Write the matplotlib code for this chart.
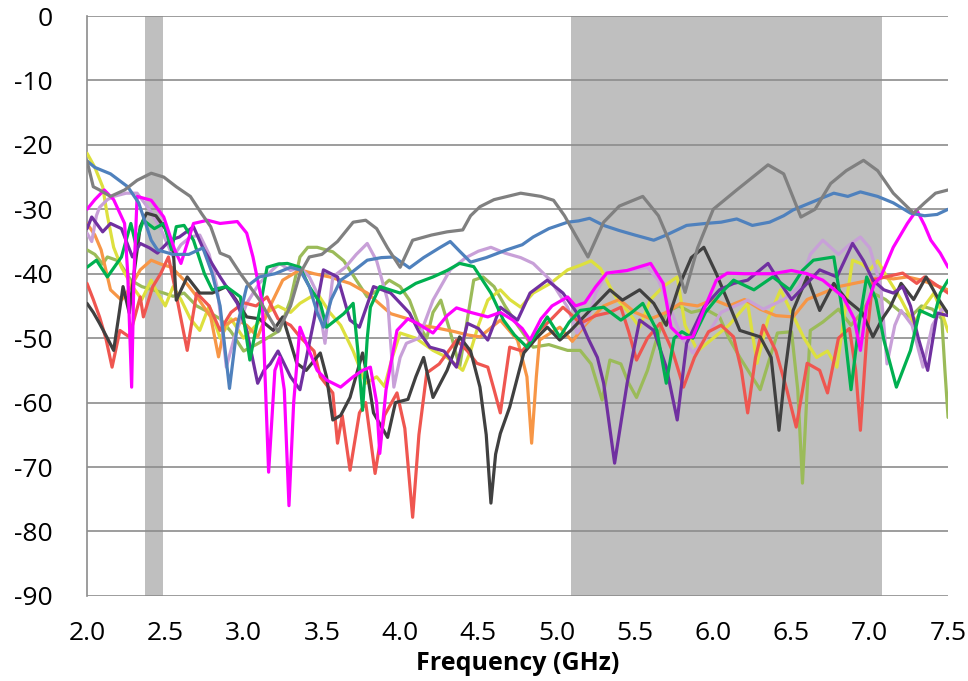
import matplotlib
matplotlib.use('Agg')
import matplotlib.pyplot as plt

plt.rcParams['font.family'] = ['Open Sans', 'DejaVu Sans']
plt.rcParams['axes.unicode_minus'] = False

# bande evidenziate (GHz)
bande = [(2.37, 2.485), (5.09, 7.08)]

# curve: frequenza (GHz) e livello (dB)
gray_x = [2.0, 2.04, 2.08, 2.15, 2.24, 2.32, 2.41, 2.49, 2.57, 2.66, 2.73, 2.79, 2.85, 2.91, 2.98, 3.04, 3.1, 3.17,
          3.22, 3.3, 3.36, 3.42, 3.5, 3.6, 3.7, 3.78, 3.85, 3.92, 4.0, 4.08, 4.2, 4.3, 4.4, 4.45, 4.51, 4.6, 4.77, 4.9,
          4.98, 5.05, 5.12, 5.2, 5.3, 5.4, 5.55, 5.65, 5.72, 5.82, 5.9, 6.0, 6.15, 6.35, 6.45, 6.56, 6.65, 6.75, 6.85,
          6.96, 7.05, 7.15, 7.28, 7.35, 7.42, 7.5]
gray_y = [-22.5, -26.5, -27, -28, -27, -25.5, -24.4, -25, -26.5, -28, -30.6, -32.7, -36.8, -37.4, -40, -42, -44, -47,
          -49, -45, -40, -37.4, -37, -35, -32, -31.7, -33, -36, -39, -34.8, -34, -33.5, -33.2, -31, -29.6, -28.5, -27.5,
          -28, -28.6, -31, -34, -37.4, -32, -29.5, -28, -31, -35, -42.9, -36, -30, -27, -23.1, -24.5, -31.2, -30, -26,
          -24, -22.4, -24, -27.5, -30.6, -29, -27.5, -27]

blue_x = [2.0, 2.05, 2.1, 2.15, 2.26, 2.33, 2.41, 2.45, 2.55, 2.65, 2.74, 2.8, 2.85, 2.91, 2.96, 3.02, 3.1, 3.2, 3.3,
          3.36, 3.42, 3.47, 3.51, 3.56, 3.62, 3.68, 3.79, 3.88, 3.96, 4.06, 4.15, 4.25, 4.32, 4.38, 4.45, 4.55, 4.68,
          4.78, 4.85, 4.95, 5.07, 5.14, 5.21, 5.3, 5.4, 5.5, 5.62, 5.7, 5.83, 5.95, 6.05, 6.15, 6.25, 6.36, 6.45, 6.51,
          6.62, 6.77, 6.86, 6.94, 7.05, 7.15, 7.26, 7.35, 7.43, 7.5]
blue_y = [-22.5, -23.5, -24, -24.5, -26.5, -29, -34.8, -36.3, -37, -37, -36, -40, -45, -57.8, -48, -42, -40.5, -40,
          -39, -39.4, -42, -46, -48.3, -44, -41, -40, -37.9, -37.5, -37.4, -39.1, -37.5, -36, -35, -36.5, -38.2, -37.5,
          -36.3, -35.5, -34.3, -33, -32, -31.8, -31.4, -32.5, -33.3, -34, -34.8, -34, -32.5, -32.2, -32, -31.5, -32.5,
          -32, -31, -30.1, -29, -27.5, -28, -27.3, -28, -29, -30.6, -31, -30.8, -30]

magenta_x = [2.0, 2.05, 2.11, 2.17, 2.24, 2.26, 2.285, 2.3, 2.32, 2.41, 2.49, 2.56, 2.6, 2.68, 2.77, 2.85, 2.96, 3.02,
             3.06, 3.12, 3.16, 3.2, 3.23, 3.26, 3.29, 3.32, 3.36, 3.42, 3.47, 3.53, 3.62, 3.7, 3.76, 3.81, 3.85, 3.87,
             3.91, 3.98, 4.05, 4.11, 4.21, 4.3, 4.36, 4.45, 4.56, 4.64, 4.72, 4.78, 4.83, 4.9, 4.97, 5.07, 5.12, 5.18,
             5.25, 5.32, 5.45, 5.6, 5.68, 5.73, 5.8, 5.87, 5.95, 6.02, 6.09, 6.2, 6.38, 6.5, 6.6, 6.7, 6.83, 6.9, 6.94,
             6.98, 7.03, 7.07, 7.15, 7.24, 7.3, 7.35, 7.39, 7.45, 7.5]
magenta_y = [-30, -28.5, -27, -28.5, -32.2, -40, -57.6, -40, -28, -28.6, -31.2, -36.3, -38.4, -32.2, -31.7, -32.2,
             -31.9, -33.7, -37.4, -44.6, -70.8, -55, -53, -58, -76, -60, -48.3, -52, -55, -56.5, -57.6, -56, -55,
             -54.5, -60, -67.9, -58, -48.8, -47, -47.7, -49.2, -46.5, -45.3, -46, -46.7, -46, -47.2, -48.5, -50.3, -47,
             -45, -43.6, -45, -44.5, -42, -39.9, -39.5, -38.4, -41.5, -48.3, -50, -49.8, -45, -41, -39.9, -40, -40,
             -39.5, -40, -41, -43.6, -47, -51.9, -45, -41.5, -40.5, -35.9, -32.2, -30.1, -32.5, -34.8, -36.8, -39]

yellow_x = [2.0, 2.05, 2.1, 2.13, 2.17, 2.22, 2.29, 2.35, 2.41, 2.45, 2.5, 2.55, 2.6, 2.66, 2.72, 2.78, 2.85, 2.92,
            3.0, 3.08, 3.15, 3.22, 3.3, 3.36, 3.47, 3.55, 3.62, 3.7, 3.78, 3.85, 3.9, 3.95, 4.0, 4.1, 4.21, 4.3, 4.4,
            4.45, 4.5, 4.56, 4.64, 4.7, 4.77, 4.85, 4.96, 5.07, 5.15, 5.22, 5.28, 5.34, 5.39, 5.46, 5.53, 5.6, 5.68,
            5.77, 5.82, 5.9, 6.0, 6.1, 6.22, 6.28, 6.35, 6.43, 6.5, 6.58, 6.66, 6.73, 6.79, 6.84, 6.89, 6.95, 7.0,
            7.05, 7.11, 7.2, 7.28, 7.35, 7.41, 7.46, 7.5]
yellow_y = [-21.3, -23.5, -26.5, -31, -35.9, -39, -42, -44, -41, -43, -45, -42, -44, -47, -48.8, -45, -50, -47, -50,
            -48, -46, -45, -46, -44.6, -43, -46, -48, -52, -57, -56, -57.5, -53, -49.2, -50, -51.9, -53, -55, -52,
            -48, -44.1, -42.5, -44, -45.2, -43, -41.5, -39.4, -38.7, -38, -39.2, -42, -44.1, -46, -48.3, -44, -42,
            -40.5, -48, -52, -50, -48, -44.6, -53.9, -47, -42.5, -46, -50, -53, -52, -54.5, -46, -37.9, -38.5, -39.4,
            -38, -40.5, -44, -47.7, -45, -43, -46, -49]

green_x = [2.0, 2.06, 2.13, 2.22, 2.28, 2.31, 2.36, 2.43, 2.49, 2.54, 2.57, 2.62, 2.68, 2.75, 2.8, 2.89, 2.98, 3.04,
           3.1, 3.15, 3.22, 3.28, 3.36, 3.42, 3.49, 3.53, 3.64, 3.7, 3.73, 3.76, 3.79, 3.81, 3.87, 4.0, 4.1, 4.21,
           4.3, 4.38, 4.47, 4.58, 4.66, 4.73, 4.81, 4.88, 4.94, 5.02, 5.08, 5.15, 5.3, 5.41, 5.48, 5.55, 5.64, 5.7,
           5.75, 5.8, 5.87, 5.95, 6.05, 6.13, 6.26, 6.38, 6.49, 6.57, 6.64, 6.77, 6.82, 6.88, 6.93, 6.98, 7.04, 7.09,
           7.17, 7.26, 7.32, 7.41, 7.45, 7.5]
green_y = [-39, -37.9, -40.5, -37.4, -32.2, -35.3, -31.7, -33, -32.2, -36.3, -32.7, -32.5, -34.8, -40, -42.5, -42,
           -43.6, -53.4, -46, -39, -38.5, -38.4, -39, -42, -44.6, -48.3, -46.2, -44.6, -52, -61.2, -50, -45.2, -42,
           -43, -41.5, -40.5, -39.5, -38.4, -38.9, -43, -47.2, -49.5, -51.4, -49, -46.7, -49.8, -47.5, -45.7, -45.2,
           -47.2, -46, -44.6, -48.8, -57, -50, -49, -50, -46, -43, -41, -42.5, -40.5, -42.5, -39.5, -37.9, -37.4, -45,
           -58, -48, -40.5, -44, -50.3, -57.6, -51.9, -45.7, -46.7, -43, -41]

purple_x = [2.0, 2.03, 2.1, 2.15, 2.22, 2.29, 2.34, 2.4, 2.45, 2.53, 2.59, 2.68, 2.74, 2.8, 2.85, 2.96, 3.02, 3.09,
            3.13, 3.17, 3.22, 3.3, 3.36, 3.41, 3.45, 3.51, 3.6, 3.68, 3.74, 3.83, 3.94, 4.06, 4.12, 4.19, 4.28, 4.36,
            4.43, 4.5, 4.56, 4.64, 4.75, 4.83, 4.94, 5.04, 5.13, 5.2, 5.26, 5.3, 5.37, 5.45, 5.53, 5.62, 5.7, 5.77,
            5.83, 5.94, 6.04, 6.13, 6.22, 6.35, 6.43, 6.5, 6.58, 6.68, 6.79, 6.89, 6.96, 7.02, 7.09, 7.15, 7.21, 7.26,
            7.31, 7.37, 7.43, 7.5]
purple_y = [-33, -31.2, -33.5, -32.2, -33, -37.4, -35.3, -36, -36.8, -34.8, -34.3, -32.7, -36, -38.5, -40.5, -44.6,
            -48.8, -57, -55, -54, -52, -56, -58, -52, -47.2, -39.4, -40.5, -47.2, -48.3, -42, -43, -46.1, -49, -51.4,
            -52, -54.5, -47.7, -48.5, -50.3, -45.2, -47.2, -43, -41, -43, -46.1, -50, -53, -57, -69.4, -57, -47.2,
            -48.8, -54.5, -62.7, -50.8, -45.2, -42.5, -41.5, -41, -38.4, -41.5, -44, -42, -39.4, -40.5, -35.3, -38,
            -41, -42.5, -43, -42, -45, -50, -55, -46.1, -46.5]

black_x = [2.0, 2.04, 2.08, 2.13, 2.17, 2.2, 2.23, 2.27, 2.3, 2.34, 2.38, 2.44, 2.5, 2.55, 2.57, 2.64, 2.72, 2.8, 2.89,
           2.95, 3.02, 3.1, 3.19, 3.25, 3.34, 3.4, 3.49, 3.53, 3.57, 3.62, 3.68, 3.76, 3.8, 3.83, 3.92, 3.97, 4.05,
           4.1, 4.15, 4.21, 4.3, 4.38, 4.45, 4.51, 4.55, 4.58, 4.61, 4.64, 4.7, 4.79, 4.87, 4.94, 5.02, 5.09, 5.2,
           5.28, 5.34, 5.42, 5.53, 5.62, 5.7, 5.78, 5.86, 5.94, 6.02, 6.09, 6.17, 6.3, 6.37, 6.42, 6.46, 6.51, 6.6,
           6.68, 6.77, 6.85, 6.95, 7.02, 7.08, 7.13, 7.2, 7.28, 7.36, 7.44, 7.5]
black_y = [-44.6, -46, -47.7, -50, -51.9, -47, -42, -46.1, -40, -32.7, -30.6, -31, -33, -35.9, -44.1, -40.5, -43, -43,
           -42, -44, -46.7, -47, -48.8, -46.7, -53.9, -55, -52.3, -56, -62.7, -62, -59.2, -52.3, -57, -61.6, -65.4,
           -60, -59.5, -56, -53, -59.2, -55, -49.8, -52, -57.6, -65, -75.6, -68, -64.8, -60.7, -52.3, -50, -48.3,
           -50.3, -48.8, -46, -44, -42.5, -44.1, -42.5, -44.6, -48, -42, -37.5, -35.9, -40, -44.1, -48.8, -49.8, -53,
           -64.3, -55, -45.7, -40.5, -45.7, -41.5, -44, -46, -49.8, -47, -45.2, -41.5, -44, -40.5, -44, -46.2]

red_x = [2.0, 2.04, 2.08, 2.12, 2.16, 2.21, 2.27, 2.34, 2.36, 2.42, 2.47, 2.52, 2.56, 2.6, 2.64, 2.7, 2.78, 2.85, 2.92,
         3.0, 3.08, 3.15, 3.22, 3.3, 3.36, 3.45, 3.49, 3.57, 3.6, 3.63, 3.68, 3.74, 3.78, 3.84, 3.9, 3.98, 4.03, 4.08,
         4.12, 4.17, 4.25, 4.36, 4.43, 4.49, 4.56, 4.6, 4.64, 4.7, 4.78, 4.88, 4.96, 5.04, 5.1, 5.15, 5.25, 5.34, 5.41,
         5.46, 5.51, 5.58, 5.66, 5.74, 5.81, 5.88, 5.97, 6.05, 6.13, 6.18, 6.22, 6.27, 6.32, 6.4, 6.47, 6.53, 6.6,
         6.68, 6.73, 6.8, 6.87, 6.91, 6.94, 6.98, 7.02, 7.1, 7.21, 7.3, 7.35, 7.41, 7.5]
red_y = [-41.5, -44, -46.7, -50, -54.5, -48.8, -49.8, -43.6, -46.7, -42, -40, -37.4, -42, -47, -51.9, -43, -45, -48.8,
         -46, -44.5, -45, -43.6, -47, -48, -49.8, -52, -56, -58.5, -66.3, -62, -70.5, -61.6, -60, -71, -62, -58.5, -64,
         -77.8, -65, -55.4, -54, -50.3, -52, -53.9, -54.5, -58, -61.6, -51.4, -52, -49, -47.2, -45.2, -46.5, -47.7,
         -46.5, -46, -45.2, -49, -53.4, -50, -47.7, -52, -57.6, -53, -49, -48, -49.8, -55, -61.6, -53, -48, -52, -58,
         -63.8, -53.9, -55, -58.5, -50, -48.5, -55, -64.3, -50, -41, -40.5, -39.9, -41.5, -40.5, -41.5, -43]

orange_x = [2.0, 2.05, 2.09, 2.15, 2.22, 2.28, 2.34, 2.41, 2.47, 2.54, 2.62, 2.7, 2.79, 2.84, 2.88, 2.95, 3.02, 3.09,
            3.17, 3.25, 3.36, 3.45, 3.55, 3.68, 3.79, 3.94, 4.05, 4.13, 4.21, 4.35, 4.43, 4.51, 4.64, 4.75, 4.81, 4.84,
            4.87, 4.89, 5.02, 5.1, 5.18, 5.3, 5.4, 5.5, 5.6, 5.7, 5.79, 5.9, 6.0, 6.1, 6.2, 6.3, 6.4, 6.51, 6.6, 6.7,
            6.8, 6.9, 7.0, 7.07, 7.15, 7.24, 7.33, 7.42, 7.5]
orange_y = [-32.2, -34, -36.3, -42.5, -44.1, -42, -39.4, -37.9, -38.5, -39, -41, -43.5, -46.7, -52.9, -48, -47, -48,
            -49.8, -45, -41, -39.4, -40, -40.5, -41.5, -43, -46.2, -47, -48, -48.3, -49, -49.5, -49.8, -47.2, -50.3,
            -56, -66.3, -56, -50.3, -48.3, -50.5, -48, -45, -44, -46, -47, -46, -44.6, -45, -44, -45, -44, -45.5,
            -46.5, -46.7, -44, -43, -42, -41.5, -41, -40.5, -40.8, -40.5, -41, -41.8, -42.5]

plum_x = [2.0, 2.03, 2.06, 2.08, 2.13, 2.17, 2.25, 2.32, 2.4, 2.47, 2.55, 2.6, 2.66, 2.72, 2.78, 2.83, 2.86, 2.89,
          2.94, 3.02, 3.1, 3.18, 3.23, 3.3, 3.36, 3.42, 3.47, 3.52, 3.57, 3.65, 3.72, 3.79, 3.85, 3.92, 3.96, 4.0,
          4.04, 4.12, 4.21, 4.32, 4.42, 4.5, 4.58, 4.67, 4.77, 4.85, 4.96, 5.07, 5.13, 5.2, 5.25, 5.32, 5.45, 5.58,
          5.65, 5.72, 5.8, 5.87, 5.95, 6.05, 6.22, 6.32, 6.45, 6.55, 6.62, 6.7, 6.8, 6.87, 6.94, 7.0, 7.07, 7.11, 7.16,
          7.2, 7.27, 7.34, 7.4, 7.46, 7.5]
plum_y = [-33.7, -35, -31, -29.7, -28.5, -28, -27.5, -27.5, -30.1, -33, -37.4, -35.5, -34.3, -34, -37, -42, -48,
          -54.5, -50, -44.6, -41.5, -39.5, -38.4, -39.5, -39, -40.5, -43, -50.8, -40.5, -39, -37, -35.3, -38, -44.1,
          -57.6, -53, -50.8, -50, -44.1, -39.4, -37.5, -36.5, -35.9, -36.8, -37.5, -38.4, -41, -45.2, -49.2, -47, -43,
          -39.9, -39.5, -39, -41, -45, -50, -52.3, -50, -46, -44.1, -45.5, -44, -42, -37, -34.8, -37, -35.5, -34.3,
          -36, -42, -54, -48, -45.7, -48, -54.5, -48, -45.5, -46]

olive_x = [2.0, 2.05, 2.1, 2.13, 2.2, 2.28, 2.35, 2.42, 2.49, 2.55, 2.62, 2.7, 2.78, 2.85, 2.92, 3.0, 3.08, 3.15, 3.23,
           3.3, 3.36, 3.41, 3.47, 3.57, 3.64, 3.72, 3.79, 3.86, 3.93, 4.0, 4.06, 4.12, 4.17, 4.21, 4.26, 4.32, 4.38,
           4.43, 4.47, 4.53, 4.6, 4.67, 4.75, 4.85, 4.95, 5.07, 5.15, 5.22, 5.29, 5.34, 5.41, 5.46, 5.51, 5.58, 5.64,
           5.7, 5.78, 5.86, 5.95, 6.04, 6.1, 6.17, 6.3, 6.41, 6.5, 6.54, 6.57, 6.6, 6.62, 6.7, 6.8, 6.88, 6.95, 7.02,
           7.1, 7.2, 7.26, 7.33, 7.4, 7.46, 7.48, 7.5]
olive_y = [-36.3, -37, -38.5, -37.4, -38, -41, -42, -42.5, -43, -43.5, -43, -45, -46, -47, -49, -52, -51, -50, -48.8,
           -44, -37.4, -35.9, -35.9, -36.6, -38, -41, -43.6, -42.5, -41, -42, -44.1, -48, -50, -46, -44.1, -49, -54.5,
           -47, -41, -40.5, -42, -45, -48, -51.4, -51, -51.9, -51.9, -54, -59.6, -53.4, -54, -57, -59.2, -55, -50, -46,
           -45, -46, -45.5, -46.7, -50, -53, -58, -49.2, -49, -58, -72.5, -58, -48.8, -47.5, -45.5, -48, -46, -43, -44,
           -46, -46.7, -45, -45.5, -47, -55, -62.3]

serie = [
    (olive_x, olive_y, '#9BBB59'),
    (yellow_x, yellow_y, '#DDE03E'),
    (orange_x, orange_y, '#F79646'),
    (plum_x, plum_y, '#C8A0D8'),
    (red_x, red_y, '#EF5650'),
    (black_x, black_y, '#404040'),
    (purple_x, purple_y, '#7030A0'),
    (green_x, green_y, '#00B050'),
    (magenta_x, magenta_y, '#FF00FF'),
    (blue_x, blue_y, '#4F81BD'),
    (gray_x, gray_y, '#808080'),
]

fig = plt.figure(figsize=(9.68, 6.81), dpi=100)
ax = fig.add_axes([0.0899, 0.125, 0.8895, 0.8515])

for a, b in bande:
    ax.axvspan(a, b, color='#BFBFBF', lw=0, zorder=1)

for xs, ys, col in serie:
    ax.plot(xs, ys, color=col, lw=2.3, zorder=3, solid_capstyle='round', solid_joinstyle='round')

ax.set_xlim(2.0, 7.5)
ax.set_ylim(-90, 0)
ax.set_yticks(range(-90, 1, 10))
ax.set_xticks([2.0 + 0.5 * i for i in range(12)])
ax.set_xticklabels(['%.1f' % (2.0 + 0.5 * i) for i in range(12)])
ax.grid(axis='y', color='#8C8C8C', lw=1.2, zorder=2)
ax.set_axisbelow(False)
for s in ['top', 'right', 'bottom']:
    ax.spines[s].set_visible(False)
ax.spines['left'].set_color('#8C8C8C')
ax.spines['left'].set_linewidth(1.2)
ax.tick_params(axis='both', length=0, labelsize=19, colors='black')
ax.tick_params(axis='y', pad=25)
ax.tick_params(axis='x', pad=18)
ax.set_xlabel('Frequency (GHz)', fontsize=18, fontweight='bold', labelpad=4)

fig.savefig('out.png', dpi=100)
